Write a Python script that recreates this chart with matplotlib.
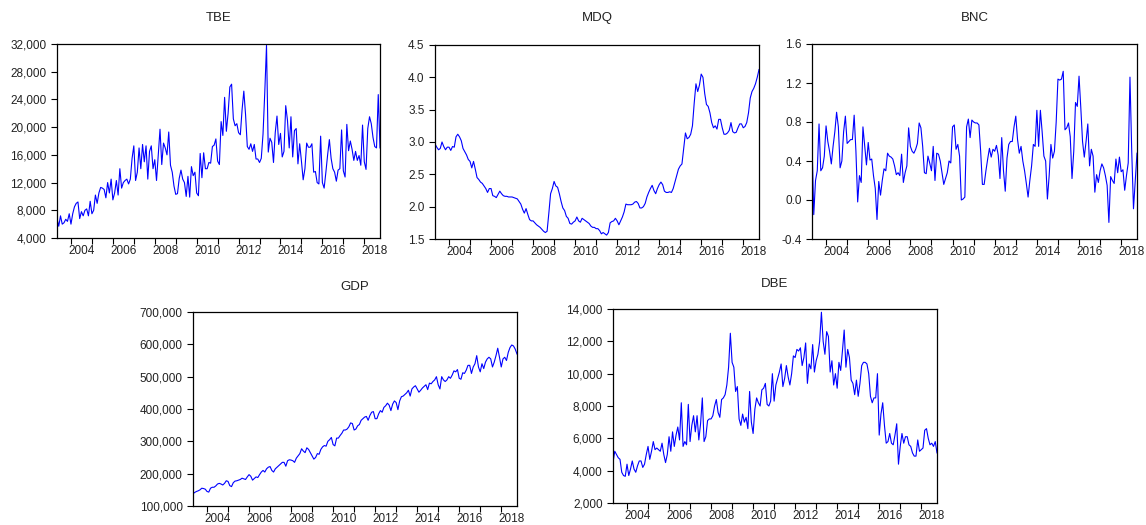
import numpy as np
import matplotlib.pyplot as plt
from matplotlib.ticker import FuncFormatter, FixedLocator

plt.rcParams['font.family'] = ['Liberation Sans', 'DejaVu Sans']

# monthly data, first observation 2003M05
start = 2003 + 4/12.

tbe = [6800, 5700, 7200, 6000, 6200, 6700, 6400, 7500, 6000, 7500, 8500, 9000,
       9200, 6800, 7800, 7200, 8000, 8200, 7200, 9300, 7500, 8000, 10200, 9000,
       10500, 11300, 11200, 11000, 9800, 12000, 10500, 12500, 9500, 10500, 12300, 10200,
       14000, 11200, 12000, 12300, 12500, 11800, 12500, 15500, 17300, 12300, 13500, 17000,
       14000, 17500, 15000, 17300, 12500, 16500, 17300, 14000, 15300, 12300, 16000, 19700,
       14600, 17700, 17000, 16000, 19300, 14500, 13500, 11500, 10300, 10400, 12600, 13800,
       12500, 12000, 10000, 12900, 9900, 14300, 13000, 13500, 10500, 10100, 16200, 12700,
       16300, 14000, 14000, 14900, 14800, 17200, 17400, 18300, 15100, 14600, 20800, 18800,
       24300, 19400, 22000, 25800, 26200, 21200, 20200, 20500, 19200, 18900, 22500, 25200,
       21800, 17200, 16800, 17600, 16500, 17500, 15400, 15400, 14900, 15500, 19000, 25000,
       31800, 16400, 18400, 17800, 14900, 19200, 21600, 17500, 19100, 15700, 16500, 23100,
       21000, 17000, 21500, 15700, 19500, 19800, 14700, 17600, 15100, 12400, 14000, 17700,
       17100, 17100, 17600, 13500, 13600, 12000, 11800, 18700, 12000, 11200, 13500, 16000,
       18200, 15500, 14000, 13500, 12200, 13800, 14000, 19600, 13700, 12800, 20400, 16600,
       18000, 16800, 15200, 16500, 15200, 15900, 14500, 20300, 15000, 13900, 19800, 21500,
       20500, 18500, 17200, 17000, 24700, 17000]

mdq = [2.97, 2.92, 2.88, 2.90, 3.00, 2.93, 2.88, 2.92, 2.92, 2.87,
       2.93, 2.92, 3.08, 3.12, 3.08, 3.02, 2.90, 2.85, 2.80, 2.73,
       2.70, 2.60, 2.70, 2.58, 2.45, 2.42, 2.38, 2.36, 2.32, 2.28,
       2.22, 2.28, 2.28, 2.17, 2.16, 2.14, 2.19, 2.24, 2.20, 2.17,
       2.16, 2.16, 2.15, 2.15, 2.15, 2.14, 2.13, 2.12, 2.08, 2.04,
       1.96, 1.90, 1.97, 1.88, 1.80, 1.78, 1.78, 1.75, 1.72, 1.70,
       1.68, 1.65, 1.62, 1.60, 1.62, 1.90, 2.20, 2.28, 2.39, 2.32,
       2.30, 2.20, 2.08, 1.98, 1.94, 1.85, 1.82, 1.74, 1.73, 1.76,
       1.78, 1.84, 1.78, 1.76, 1.82, 1.80, 1.78, 1.76, 1.74, 1.70,
       1.68, 1.68, 1.66, 1.66, 1.63, 1.58, 1.60, 1.58, 1.56, 1.60,
       1.75, 1.77, 1.78, 1.82, 1.78, 1.72, 1.78, 1.84, 1.92, 2.04,
       2.03, 2.03, 2.03, 2.04, 2.07, 2.08, 2.05, 1.98, 1.98, 2.00,
       2.05, 2.15, 2.22, 2.28, 2.33, 2.25, 2.20, 2.28, 2.34, 2.38,
       2.34, 2.24, 2.22, 2.22, 2.23, 2.22, 2.28, 2.38, 2.48, 2.58,
       2.63, 2.66, 2.90, 3.14, 3.05, 3.07, 3.12, 3.25, 3.60, 3.90,
       3.78, 3.88, 4.05, 4.00, 3.75, 3.58, 3.55, 3.45, 3.30, 3.22,
       3.25, 3.20, 3.35, 3.35, 3.22, 3.12, 3.12, 3.14, 3.18, 3.30,
       3.16, 3.14, 3.15, 3.22, 3.28, 3.28, 3.22, 3.24, 3.30, 3.45,
       3.68, 3.78, 3.83, 3.90, 4.00, 4.12]

bnc = [0.60, -0.15, 0.20, 0.30, 0.78, 0.30, 0.33, 0.45, 0.76, 0.60, 0.50,
       0.37, 0.55, 0.70, 0.90, 0.75, 0.33, 0.40, 0.70, 0.86, 0.58, 0.60, 0.62, 0.62,
       0.87, 0.50, -0.02, 0.25, 0.18,
       0.75, 0.55, 0.36, 0.59, 0.41, 0.42, 0.25, 0.12, -0.20, 0.19, 0.05, 0.20, 0.32,
       0.30, 0.48, 0.45, 0.44, 0.42, 0.35, 0.26, 0.28,
       0.25, 0.47, 0.18, 0.28, 0.35, 0.74, 0.55, 0.50, 0.48, 0.52, 0.58, 0.79, 0.74,
       0.55, 0.28, 0.27, 0.45, 0.38, 0.30,
       0.55, 0.20, 0.48, 0.47, 0.40, 0.28, 0.16, 0.22, 0.28, 0.40, 0.38, 0.75, 0.77,
       0.52, 0.57, 0.45, 0.00, 0.01, 0.03,
       0.75, 0.83, 0.64, 0.82, 0.80, 0.79, 0.79, 0.77, 0.50, 0.16, 0.16, 0.30, 0.42,
       0.53, 0.44, 0.52, 0.50, 0.56, 0.46, 0.22, 0.64, 0.30, 0.09, 0.43,
       0.57, 0.60, 0.60, 0.75, 0.86, 0.62, 0.48, 0.55, 0.40, 0.30, 0.17, 0.03, 0.20,
       0.35, 0.57, 0.55, 0.92, 0.55,
       0.92, 0.70, 0.45, 0.40, 0.01, 0.25, 0.57, 0.43, 0.50, 0.80, 1.24, 1.23, 1.24,
       1.32, 0.72, 0.74, 0.79, 0.65, 0.22, 0.50,
       1.00, 0.96, 1.27, 0.95, 0.60, 0.44, 0.60, 0.78, 0.35, 0.52, 0.45, 0.08, 0.26,
       0.18, 0.30, 0.37, 0.33, 0.25, 0.15,
       -0.23, 0.24, 0.20, 0.17, 0.42, 0.28, 0.44, 0.29, 0.31, 0.10, 0.25, 0.38, 1.26,
       0.50, -0.09, 0.20, 0.48]

# GDP in thousands
gdp = [138, 142, 145, 147, 150,
       155, 154, 152, 145, 143, 155, 158, 158, 162, 168, 170, 168, 165, 170, 178, 176,
       163, 160, 172, 177, 178, 180, 182, 186, 184, 182, 190, 197, 192, 180, 185, 190, 188, 197,
       205, 210, 205, 215, 220, 222, 210, 205, 215, 220, 225, 230, 235, 235, 223, 240,
       243, 242, 240, 235,
       248, 255, 262, 277, 270, 265, 280, 275, 265, 255, 245, 250, 262, 260,
       275, 283, 287, 285, 300, 305, 312, 290, 286, 310, 310, 318, 325, 335, 335, 338,
       345, 357, 355, 335, 338, 348, 352, 365, 370,
       375, 377, 365, 380, 390, 392, 370, 370, 385, 395, 390, 405, 410, 418, 412, 395,
       415, 425,
       420, 398, 425, 438, 440, 445, 450, 458, 440, 462, 468, 472, 462, 452, 458, 465,
       470, 475, 460, 480, 478, 485, 490,
       500, 475, 462, 500, 490, 485, 490, 500, 495, 505, 518, 515, 522, 495, 492, 512,
       510, 520, 535,
       535, 510, 530, 540, 565, 530, 515, 540, 525, 545, 555, 560, 555, 530, 545, 565,
       588, 560, 530, 555, 560, 550, 575, 590, 598, 595, 585, 570]

dbe = [4500, 5200, 5000, 4800, 4700, 3900, 3700, 3650, 4400, 3700, 4100, 4600, 4100, 3900,
       4300, 4600, 4600, 4200, 4400, 5000, 5500, 4700, 5200, 5800, 5300, 5400, 5300, 5200,
       5700, 5000, 4500, 5000, 6100,
       5200, 6400, 5500, 6200, 6700, 5900, 8200, 5500, 5800, 5600, 8100, 5800, 6800, 7400,
       6400, 7400, 5900, 6900, 8500, 5800, 6100,
       7100, 7200, 7200, 7400, 8000, 8400, 7600, 7300, 8400, 8500, 8700, 9300, 10400, 12500,
       10700, 10400, 8900, 9200, 7200, 6800, 7500, 7000, 7300,
       6600, 8900, 7000, 6300, 7800, 8500, 8200, 8000, 9000, 9100, 9400, 8100, 8000,
       8300, 10000, 8300, 9300, 9700, 10100, 10600, 9200, 9700, 10500, 9800, 9300, 10000,
       11100, 11000,
       11500, 11400, 11600, 10500, 11000, 11900, 9400, 10600, 10300, 11800, 10100, 10800,
       11200, 12000, 13800, 12000, 11200, 12600, 12300, 10100, 10800, 9300, 10000, 9100,
       10700, 10200, 11400, 12700, 10400, 11500, 11000, 9600, 9400, 8700, 9600, 8600, 9400,
       10500, 10700,
       10700, 10600, 10000, 8600, 8200, 8500, 8500, 10000, 6200, 7500, 8200, 6800, 5700, 5800,
       6300, 5700, 5600, 6200, 6900, 4400, 5500, 6300, 5700, 6100, 6100, 5600, 5500, 5100,
       4900, 4900, 5900, 5200, 5300, 5400, 6500, 6600, 6000, 5600, 5700, 5500, 5800, 5100]

W, H = 1146, 525
fig = plt.figure(figsize=(W/100., H/100.), dpi=100)

def comma(v, p):
    return '{:,.0f}'.format(v)

def one_dec(v, p):
    return '%.1f' % v

def panel(name, y, box, yticks, fmt, title_y):
    l, r, t, b = box
    ax = fig.add_axes([l/float(W), 1-b/float(H), (r-l)/float(W), (b-t)/float(H)])
    x = start + np.arange(len(y))/12.
    ax.plot(x, y, color='#0000FF', lw=0.8)
    ax.set_xlim(start, start + 185/12.)
    ax.set_ylim(yticks[0], yticks[-1])
    ax.set_yticks(yticks)
    ax.yaxis.set_major_formatter(FuncFormatter(fmt))
    # year ticks at Jan, labels in the middle of even years
    ax.xaxis.set_major_locator(FixedLocator(np.arange(2004, 2019)))
    ax.xaxis.set_minor_locator(FixedLocator(np.arange(2004, 2019, 2) + 0.5))
    ax.xaxis.set_major_formatter(FuncFormatter(lambda v, p: ''))
    ax.xaxis.set_minor_formatter(FuncFormatter(lambda v, p: '%d' % int(v)))
    ax.tick_params(axis='x', which='major', direction='out', length=4, width=0.8)
    ax.tick_params(axis='x', which='minor', length=0, pad=5, labelsize=8.5, labelcolor='#222222')
    ax.tick_params(axis='y', direction='out', length=4, width=0.8, labelsize=8.5, labelcolor='#222222')
    for s in ax.spines.values():
        s.set_linewidth(0.9)
    fig.text((l+r)/2./W, 1-title_y/float(H), name, ha='center', va='center', fontsize=9.5, color='#222222')
    return ax

panel('TBE', tbe, (57, 380, 44, 238), np.arange(4000, 32001, 4000), comma, 18)
panel('MDQ', mdq, (435, 759, 45, 239), np.arange(1.5, 4.51, 0.5), one_dec, 18)
panel('BNC', bnc, (812, 1137, 44, 239), np.arange(-0.4, 1.61, 0.4), one_dec, 18)
panel('GDP', [g*1000 for g in gdp], (193, 517, 312, 506), np.arange(100000, 700001, 100000), comma, 287)
panel('DBE', dbe, (613, 937, 309, 503), np.arange(2000, 14001, 2000), comma, 284)

plt.savefig('out.png', dpi=100)
